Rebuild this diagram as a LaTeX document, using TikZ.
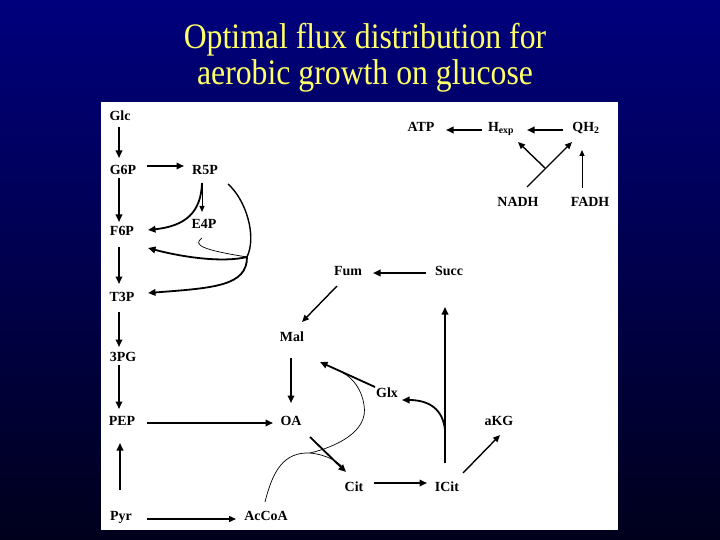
\documentclass[tikz,border=0pt]{standalone}
\usepackage{fontspec}
\setmainfont{Liberation Serif}
\usetikzlibrary{arrows.meta,calc}
\definecolor{bgtop}{RGB}{0,0,125}
\definecolor{bgbot}{RGB}{0,0,28}
\definecolor{titleyellow}{RGB}{255,255,102}
\begin{document}
\begin{tikzpicture}[x=1bp,y=-1bp,
  lab/.style={font=\fontsize{14}{16}\selectfont\bfseries, inner sep=0pt, text height=9.5bp, text depth=0bp, anchor=center},
  ttl/.style={font=\fontsize{36}{40}\selectfont, text=titleyellow, inner sep=0pt, anchor=base, xscale=0.885, transform shape},
  arr/.style={line width=1.8bp, -{Triangle[length=7.5bp,width=6.5bp]}},
  marr/.style={line width=1.4bp, -{Triangle[length=7bp,width=6bp]}},
  tarr/.style={line width=1bp, -{Triangle[length=6bp,width=5bp]}},
  fine/.style={line width=0.7bp}]
\useasboundingbox (0,0) rectangle (720,540);
\shade[top color=bgtop, bottom color=bgbot] (0,0) rectangle (720,540);
\fill[white] (101,102) rectangle (618,530);
% title
\node[ttl] (t1) at (365,49) {Optimal flux distribution for};
\node[ttl] (t2) at (365,85) {aerobic growth on glucose};
% labels
\node[lab] (Glc) at (120,116) {Glc};
\node[lab] (G6P) at (123,170) {G6P};
\node[lab] (R5P) at (205,170) {R5P};
\node[lab] (F6P) at (122,231) {F6P};
\node[lab] (E4P) at (204,224) {E4P};
\node[lab] (T3P) at (122,297) {T3P};
\node[lab] (PG) at (123,357) {3PG};
\node[lab] (PEP) at (122,421) {PEP};
\node[lab] (Pyr) at (121,516) {Pyr};
\node[lab] (AcCoA) at (266,516) {AcCoA};
\node[lab] (OA) at (291,421) {OA};
\node[lab] (Mal) at (292,337) {Mal};
\node[lab] (Fum) at (348,271) {Fum};
\node[lab] (Succ) at (449,271) {Succ};
\node[lab] (Glx) at (387,393) {Glx};
\node[lab] (aKG) at (499,421) {aKG};
\node[lab] (Cit) at (354,487) {Cit};
\node[lab] (ICit) at (447,487) {ICit};
\node[lab] (ATP) at (421,127) {ATP};
\node[lab] (Hexp) at (501,127) {H\textsubscript{exp}};
\node[lab] (QH) at (586,127) {QH\textsubscript{2}};
\node[lab] (NADH) at (518,202) {NADH};
\node[lab] (FADH) at (590,202) {FADH};
% junctions
\coordinate (J1) at (247,257);
\coordinate (J2) at (310,453);
% glycolysis column
\draw[arr] ($(Glc)+(-1,11)$) -- ($(G6P)+(-4,-12)$);
\draw[arr] ($(G6P)+(24,-4)$) -- ($(R5P)+(-21,-4)$);
\draw[arr] ($(G6P)+(-4,8)$) -- ($(F6P)+(-3,-9)$);
\draw[arr] ($(F6P)+(-3,16)$) -- ($(T3P)+(-3,-13)$);
\draw[arr] ($(T3P)+(-3,15)$) -- ($(PG)+(-4,-10)$);
\draw[arr] ($(PG)+(-4,8)$) -- ($(PEP)+(-3,-12)$);
\draw[arr] ($(Pyr)+(-1,-26)$) -- ($(PEP)+(-2,22)$);
\draw[marr] ($(Pyr)+(26,3)$) -- ($(AcCoA)+(-30,3)$);
\draw[arr] ($(PEP)+(25,2)$) -- ($(OA)+(-18,2)$);
% pentose phosphate
\draw[tarr] ($(R5P)+(-3,13)$) -- ($(E4P)+(-2,-12)$);
\draw[arr] ($(R5P)+(-3,13)$) .. controls (201,212) and (186,226) .. ($(F6P)+(26,-1)$);
\draw[marr,-] ($(R5P)+(23,14)$) .. controls (246,200) and (257,236) .. (J1);
\draw[fine] ($(E4P)+(-2,14)$) .. controls (192,245) and (203,250) .. (J1);
\draw[arr] (J1) .. controls (222,263) and (182,257) .. ($(F6P)+(26,17)$);
\draw[arr] (J1) .. controls (247,286) and (214,288) .. ($(T3P)+(26,-4)$);
% TCA cycle
\draw[arr] ($(Mal)+(-1,21)$) -- ($(OA)+(0,-18)$);
\draw[marr] ($(Fum)+(-11,15)$) -- ($(Mal)+(10,-15)$);
\draw[arr] ($(Succ)+(-23,2)$) -- ($(Fum)+(25,2)$);
\draw[arr] ($(Glx)+(-12,-6)$) -- ($(Mal)+(28,25)$);
\draw[arr] ($(OA)+(19,16)$) -- ($(Cit)+(-8,-15)$);
\draw[arr] ($(Cit)+(20,-4)$) -- ($(ICit)+(-20,-4)$);
\draw[marr] ($(ICit)+(16,-14)$) -- ($(aKG)+(1,14)$);
\draw[arr] ($(ICit)+(-2,-24)$) -- ($(Succ)+(-4,36)$);
\draw[arr] ($(ICit)+(-2,-57)$) .. controls (443,410) and (430,400) .. ($(Glx)+(15,7)$);
% AcCoA thin curves
\draw[fine] ($(AcCoA)+(-1,-14)$) .. controls (273,470) and (284,452) .. (J2);
\draw[fine] (J2) .. controls (328,455) and (339,462) .. ($(Cit)+(-9,-17)$);
\draw[fine] (J2) .. controls (335,447) and (369,432) .. (364,405) .. controls (362,390) and (353,378) .. ($(Glx)+(-44,-20)$);
% electron transport
\draw[arr] ($(Hexp)+(-19,3)$) -- ($(ATP)+(25,3)$);
\draw[arr] ($(QH)+(-23,3)$) -- ($(Hexp)+(26,3)$);
\draw[marr] ($(NADH)+(9,-15)$) -- ($(QH)+(-14,15)$);
\draw[marr] ($(NADH)+(27,-34)$) -- ($(Hexp)+(17,15)$);
\draw[tarr] ($(FADH)+(-8,-14)$) -- ($(QH)+(-4,23)$);
\end{tikzpicture}
\end{document}
